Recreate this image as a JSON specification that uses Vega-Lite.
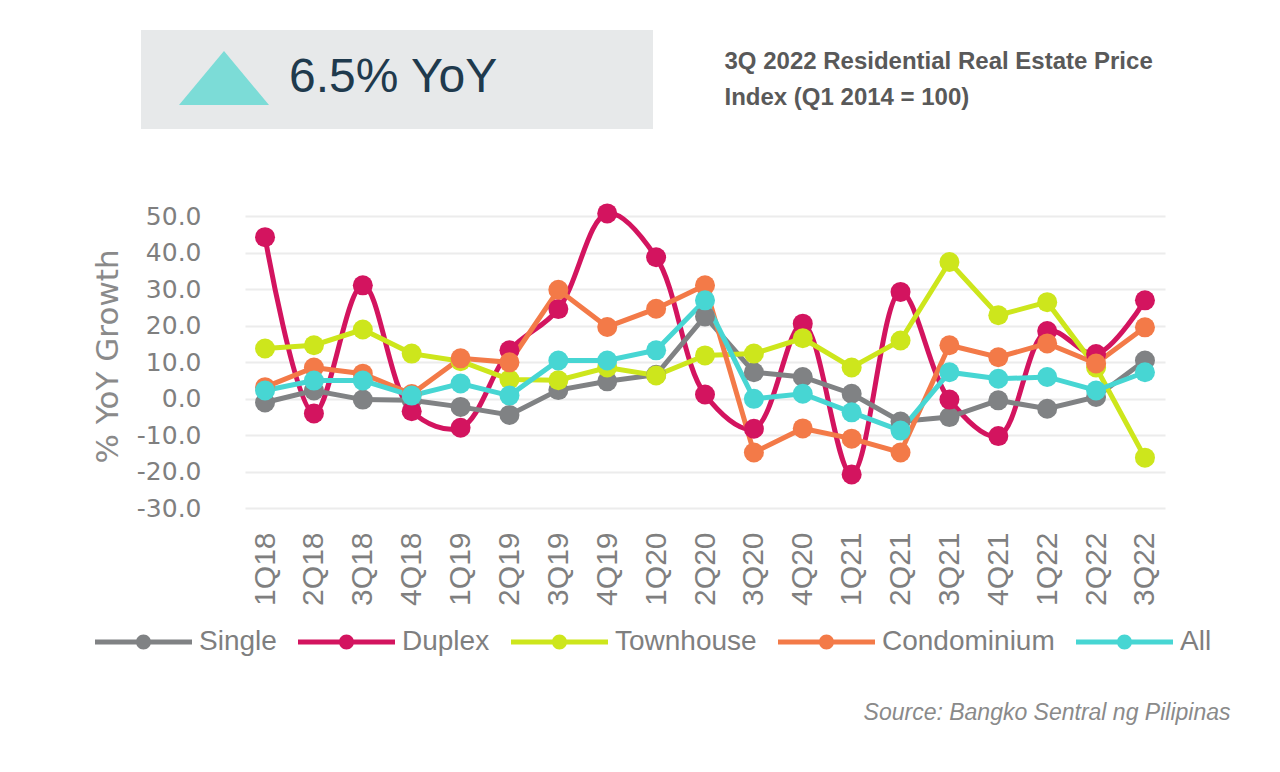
{
  "$schema": "https://vega.github.io/schema/vega-lite/v6.json",
  "autosize": {"type": "none"},
  "width": 920,
  "height": 292,
  "padding": {"left": 245, "top": 216, "right": 115, "bottom": 264},
  "background": "white",
  "config": {"view": {"stroke": null}},
  "resolve": {"axis": {"y": "independent"}},
  "layer": [
    {
      "data": {"values": [
        {"quarter": "1Q18", "type": "Single", "value": -1.1},
        {"quarter": "2Q18", "type": "Single", "value": 2.2},
        {"quarter": "3Q18", "type": "Single", "value": -0.3},
        {"quarter": "4Q18", "type": "Single", "value": -0.5},
        {"quarter": "1Q19", "type": "Single", "value": -2.3},
        {"quarter": "2Q19", "type": "Single", "value": -4.5},
        {"quarter": "3Q19", "type": "Single", "value": 2.3},
        {"quarter": "4Q19", "type": "Single", "value": 4.7},
        {"quarter": "1Q20", "type": "Single", "value": 6.5},
        {"quarter": "2Q20", "type": "Single", "value": 22.5},
        {"quarter": "3Q20", "type": "Single", "value": 7.2},
        {"quarter": "4Q20", "type": "Single", "value": 5.9},
        {"quarter": "1Q21", "type": "Single", "value": 1.3},
        {"quarter": "2Q21", "type": "Single", "value": -6.3},
        {"quarter": "3Q21", "type": "Single", "value": -5.1},
        {"quarter": "4Q21", "type": "Single", "value": -0.5},
        {"quarter": "1Q22", "type": "Single", "value": -2.8},
        {"quarter": "2Q22", "type": "Single", "value": 0.4},
        {"quarter": "3Q22", "type": "Single", "value": 10.4},
        {"quarter": "1Q18", "type": "Duplex", "value": 44.2},
        {"quarter": "2Q18", "type": "Duplex", "value": -4.1},
        {"quarter": "3Q18", "type": "Duplex", "value": 31.0},
        {"quarter": "4Q18", "type": "Duplex", "value": -3.5},
        {"quarter": "1Q19", "type": "Duplex", "value": -8.0},
        {"quarter": "2Q19", "type": "Duplex", "value": 13.2},
        {"quarter": "3Q19", "type": "Duplex", "value": 24.5},
        {"quarter": "4Q19", "type": "Duplex", "value": 50.7},
        {"quarter": "1Q20", "type": "Duplex", "value": 38.7},
        {"quarter": "2Q20", "type": "Duplex", "value": 1.1},
        {"quarter": "3Q20", "type": "Duplex", "value": -8.3},
        {"quarter": "4Q20", "type": "Duplex", "value": 20.5},
        {"quarter": "1Q21", "type": "Duplex", "value": -20.8},
        {"quarter": "2Q21", "type": "Duplex", "value": 29.2},
        {"quarter": "3Q21", "type": "Duplex", "value": -0.3},
        {"quarter": "4Q21", "type": "Duplex", "value": -10.3},
        {"quarter": "1Q22", "type": "Duplex", "value": 18.5},
        {"quarter": "2Q22", "type": "Duplex", "value": 12.2},
        {"quarter": "3Q22", "type": "Duplex", "value": 26.9},
        {"quarter": "1Q18", "type": "Townhouse", "value": 13.7},
        {"quarter": "2Q18", "type": "Townhouse", "value": 14.6},
        {"quarter": "3Q18", "type": "Townhouse", "value": 18.9},
        {"quarter": "4Q18", "type": "Townhouse", "value": 12.3},
        {"quarter": "1Q19", "type": "Townhouse", "value": 10.2},
        {"quarter": "2Q19", "type": "Townhouse", "value": 5.2},
        {"quarter": "3Q19", "type": "Townhouse", "value": 5.0},
        {"quarter": "4Q19", "type": "Townhouse", "value": 8.5},
        {"quarter": "1Q20", "type": "Townhouse", "value": 6.3},
        {"quarter": "2Q20", "type": "Townhouse", "value": 11.8},
        {"quarter": "3Q20", "type": "Townhouse", "value": 12.3},
        {"quarter": "4Q20", "type": "Townhouse", "value": 16.5},
        {"quarter": "1Q21", "type": "Townhouse", "value": 8.5},
        {"quarter": "2Q21", "type": "Townhouse", "value": 15.9},
        {"quarter": "3Q21", "type": "Townhouse", "value": 37.4},
        {"quarter": "4Q21", "type": "Townhouse", "value": 22.8},
        {"quarter": "1Q22", "type": "Townhouse", "value": 26.4},
        {"quarter": "2Q22", "type": "Townhouse", "value": 8.5},
        {"quarter": "3Q22", "type": "Townhouse", "value": -16.2},
        {"quarter": "1Q18", "type": "Condominium", "value": 3.1},
        {"quarter": "2Q18", "type": "Condominium", "value": 8.5},
        {"quarter": "3Q18", "type": "Condominium", "value": 6.8},
        {"quarter": "4Q18", "type": "Condominium", "value": 1.2},
        {"quarter": "1Q19", "type": "Condominium", "value": 11.0},
        {"quarter": "2Q19", "type": "Condominium", "value": 9.9},
        {"quarter": "3Q19", "type": "Condominium", "value": 29.8},
        {"quarter": "4Q19", "type": "Condominium", "value": 19.6},
        {"quarter": "1Q20", "type": "Condominium", "value": 24.6},
        {"quarter": "2Q20", "type": "Condominium", "value": 31.0},
        {"quarter": "3Q20", "type": "Condominium", "value": -14.8},
        {"quarter": "4Q20", "type": "Condominium", "value": -8.2},
        {"quarter": "1Q21", "type": "Condominium", "value": -11.0},
        {"quarter": "2Q21", "type": "Condominium", "value": -14.8},
        {"quarter": "3Q21", "type": "Condominium", "value": 14.6},
        {"quarter": "4Q21", "type": "Condominium", "value": 11.3},
        {"quarter": "1Q22", "type": "Condominium", "value": 15.1},
        {"quarter": "2Q22", "type": "Condominium", "value": 9.6},
        {"quarter": "3Q22", "type": "Condominium", "value": 19.5},
        {"quarter": "1Q18", "type": "All", "value": 2.2},
        {"quarter": "2Q18", "type": "All", "value": 4.9},
        {"quarter": "3Q18", "type": "All", "value": 4.9},
        {"quarter": "4Q18", "type": "All", "value": 0.8},
        {"quarter": "1Q19", "type": "All", "value": 4.1},
        {"quarter": "2Q19", "type": "All", "value": 0.8},
        {"quarter": "3Q19", "type": "All", "value": 10.4},
        {"quarter": "4Q19", "type": "All", "value": 10.4},
        {"quarter": "1Q20", "type": "All", "value": 13.2},
        {"quarter": "2Q20", "type": "All", "value": 26.9},
        {"quarter": "3Q20", "type": "All", "value": -0.1},
        {"quarter": "4Q20", "type": "All", "value": 1.3},
        {"quarter": "1Q21", "type": "All", "value": -3.8},
        {"quarter": "2Q21", "type": "All", "value": -8.8},
        {"quarter": "3Q21", "type": "All", "value": 7.2},
        {"quarter": "4Q21", "type": "All", "value": 5.4},
        {"quarter": "1Q22", "type": "All", "value": 5.9},
        {"quarter": "2Q22", "type": "All", "value": 2.2},
        {"quarter": "3Q22", "type": "All", "value": 7.2}
      ]},
      "encoding": {
        "x": {
          "field": "quarter", "type": "ordinal",
          "sort": ["1Q18","2Q18","3Q18","4Q18","1Q19","2Q19","3Q19","4Q19","1Q20","2Q20","3Q20","4Q20","1Q21","2Q21","3Q21","4Q21","1Q22","2Q22","3Q22"],
          "scale": {"type": "point", "padding": 0.41},
          "axis": {
            "labelAngle": -90, "labelFont": "Liberation Sans", "labelFontSize": 30, "labelColor": "#7f7f7f",
            "labelPadding": 24, "ticks": false, "domain": false, "grid": false,
            "title": "Source: Bangko Sentral ng Pilipinas",
            "titleFont": "Liberation Sans", "titleFontStyle": "italic", "titleFontWeight": "normal",
            "titleFontSize": 23, "titleColor": "#8a8a8a",
            "titleX": 985, "titleY": 211, "titleAlign": "right", "titleBaseline": "alphabetic"
          }
        },
        "y": {
          "field": "value", "type": "quantitative",
          "scale": {"domain": [-30, 50], "nice": false},
          "axis": {
            "values": [-30, -20, -10, 0, 10, 20, 30, 40, 50],
            "labelExpr": "replace(format(datum.value, '.1f'), '\u2212', '-')",
            "labelFont": "DejaVu Sans", "labelFontSize": 25, "labelColor": "#7f7f7f",
            "labelPadding": 44, "ticks": false, "domain": false,
            "gridColor": "#ececec", "gridWidth": 2,
            "title": "% YoY Growth", "titleFont": "DejaVu Sans", "titleFontSize": 31,
            "titleFontWeight": "normal", "titleColor": "#8a8a8a", "titlePadding": 12,
            "titleY": 140
          }
        },
        "color": {
          "field": "type", "type": "nominal",
          "sort": ["Single", "Duplex", "Townhouse", "Condominium", "All"],
          "scale": {
            "domain": ["Single", "Duplex", "Townhouse", "Condominium", "All"],
            "range": ["#808284", "#d3145f", "#cde61c", "#f37a48", "#47d6d3"]
          },
          "legend": {
            "orient": "none", "legendX": -154, "legendY": 412, "direction": "horizontal",
            "title": null, "padding": 0,
            "symbolType": "M-1,-0.25 L3.2,-0.25 L3.2,0.25 L-1,0.25 Z M4.5,-0.25 L8.7,-0.25 L8.7,0.25 L4.5,0.25 Z M4.6,0 A0.75,0.75 0 1,1 3.1,0 A0.75,0.75 0 1,1 4.6,0 Z",
            "symbolSize": 400, "symbolStrokeWidth": 0,
            "labelFont": "Liberation Sans", "labelFontSize": 28, "labelColor": "#7f7f7f",
            "labelOffset": 80, "columnPadding": 17, "labelLimit": 400,
            "encode": {"symbols": {"update": {"fill": {"scale": "color", "field": "value"}, "stroke": {"value": "transparent"}, "opacity": {"value": 1}}}}
          }
        }
      },
      "layer": [
        {
          "transform": [{"filter": "datum.type === 'Duplex'"}],
          "mark": {"type": "line", "strokeWidth": 5, "interpolate": "catmull-rom"}
        },
        {
          "transform": [{"filter": "datum.type !== 'Duplex'"}],
          "mark": {"type": "line", "strokeWidth": 5}
        },
        {
          "mark": {"type": "point", "filled": true, "size": 400, "opacity": 1}
        }
      ]
    },
    {
      "data": {"values": []},
      "mark": {"type": "point", "filled": true, "color": "#4fd5cf"},
      "encoding": {
        "y": {
          "field": "value", "type": "quantitative",
          "axis": {
            "orient": "right", "labels": false, "ticks": false, "domain": false, "grid": false,
            "title": ["3Q 2022 Residential  Real Estate Price", "Index (Q1 2014 = 100)"],
            "titleAngle": 0, "titleAlign": "left", "titleBaseline": "top",
            "titleX": -441, "titleY": -167,
            "titleFont": "Liberation Sans", "titleFontSize": 24, "titleFontWeight": "bold",
            "titleColor": "#595959", "titleLineHeight": 36
          }
        },
        "shape": {
          "datum": "6.5% YoY",
          "scale": {"domain": ["6.5% YoY"], "range": ["M3.5,-2.7 L8,2.7 L-1,2.7 Z M44,0 L44,0 Z"]},
          "legend": {
            "orient": "none", "legendX": -104, "legendY": -186, "title": null,
            "fillColor": "#e7e9ea", "padding": 24,
            "symbolSize": 400, "symbolStrokeWidth": 0,
            "labelFont": "Liberation Sans", "labelFontSize": 48, "labelColor": "#1f3a4d",
            "labelOffset": 76, "labelLimit": 900,
            "encode": {"symbols": {"update": {"fill": {"value": "#4fd5cf"}, "stroke": {"value": "transparent"}, "opacity": {"value": 1}}}}
          }
        }
      }
    }
  ]
}
